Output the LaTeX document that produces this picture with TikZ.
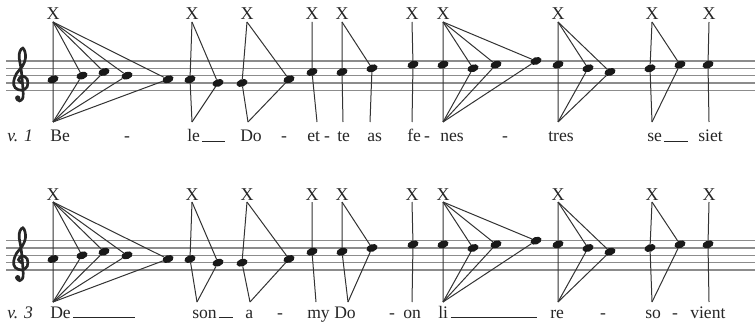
\documentclass[tikz,border=0pt]{standalone}
\usepackage{fontspec}
\setmainfont{Liberation Serif}
\usetikzlibrary{shapes.geometric}
\newcommand\mygclef[1]{%
\begin{scope}[shift={#1}, x=5.5pt, y=5.5pt]
 \draw[line width=2pt, line cap=round, black!85] plot[smooth, tension=0.6] coordinates {(0.05,1.0) (-0.35,1.4) (0.15,1.95) (0.85,1.5) (0.85,0.5) (0.1,0.0) (-0.8,0.35) (-1.0,1.2) (-0.6,2.3) (0.2,3.3) (0.6,4.3) (0.55,5.2) (0.25,5.75) (-0.15,5.3) (-0.25,4.4) (0.0,3.0) (0.2,1.0) (0.3,-0.5) (0.2,-1.15) (-0.2,-1.45) (-0.55,-1.2)};
 \fill[black!85] (-0.45,-1.05) circle (0.36);
\end{scope}}
\begin{document}
\begin{tikzpicture}[x=0.75pt,y=-0.75pt,
  staff/.style={draw=black!45, line width=0.8pt},
  link/.style={draw=black!80, line width=0.75pt},
  note/.style={ellipse, fill=black!90, minimum width=8.6pt, minimum height=5.6pt, inner sep=0pt, outer sep=0pt, rotate=20},
  xmark/.style={font=\fontsize{13.5}{15}\selectfont, text=black!85, inner sep=0pt, outer sep=1.5pt, anchor=south},
  lyr/.style={font=\fontsize{13.2}{15}\selectfont, text=black!85, inner sep=0pt, anchor=base west},
  hyph/.style={font=\fontsize{13.2}{15}\selectfont, text=black!85, inner sep=0pt, anchor=base},
]
\useasboundingbox (0,0) rectangle (755,324);
% staves
\foreach \dy in {0,179.7}{
  \foreach \k in {0,...,4}{
    \draw[staff] (6,{61+\dy+\k*7.33}) -- (755,{61+\dy+\k*7.33});
  }
}
\mygclef{(21,90.3)}
\mygclef{(21,270)}
% notes
\foreach \r/\dy in {a/0,b/179.7}{
  \foreach \i/\x/\p in {1/53/3,2/82/4,3/104/5,4/127/4,5/168/3,6/190/3,7/218/2,8/242/2,9/289/3,10/312/5,11/342/5,12/372/6,13/413/7,14/443/7,15/473/6,16/496/7,17/536/8,18/558/7,19/588/6,20/610/5,21/650/6,22/680/7,23/708/7}{
    \node[note] (\r\i) at (\x,{90.3+\dy-\p*3.665}) {};
  }
}
% X marks
\foreach \r/\dy in {a/0,b/180}{
  \foreach \j/\x in {1/53,2/192,3/247,4/312,5/342,6/412,7/443,8/558,9/652,10/709}{
    \node[xmark] (x\r\j) at (\x,22+\dy) {X};
  }
}
% links from X marks to notes
\foreach \r in {a,b}{
  \foreach \j/\lst in {1/{1,2,3,4,5},2/{6,7},3/{8,9},4/{10},5/{11,12},6/{13},7/{14,15,16,17},8/{18,19,20},9/{21,22},10/{23}}{
    \foreach \n in \lst { \draw[link] (x\r\j.south) -- (\r\n); }
  }
}
% lower anchors, row a
\foreach \j/\x/\lst in {1/53/{1,2,3,4,5},2/192/{6,7},3/248/{8,9},4/317/{10},5/343/{11},11/370/{12},6/412/{13},7/443/{14,15,16,17},8/558/{18,19,20},9/652/{21,22},10/709/{23}}{
  \coordinate (ba\j) at (\x,122);
  \foreach \n in \lst { \draw[link] (a\n) -- (ba\j); }
}
% lower anchors, row b
\foreach \j/\x/\lst in {1/53/{1,2,3,4,5},2/197/{6,7},3/250/{8,9},4/316/{10},5/348/{11,12},6/412/{13},7/443/{14,15,16,17},8/558/{18,19,20},9/652/{21,22},10/709/{23}}{
  \coordinate (bb\j) at (\x,302);
  \foreach \n in \lst { \draw[link] (b\n) -- (bb\j); }
}
% lyrics, verse 1
\node[lyr] (la0) at (7,142) {\textit{v. 1}};
\node[lyr] (la1) at (50,142) {Be};
\node[hyph] (la2) at (127,142) {-};
\node[lyr] (la3) at (187,142) {le\hspace{1.5pt}\rule{17pt}{0.5pt}};
\node[lyr] (la4) at (240,142) {Do};
\node[hyph] (la5) at (284,142) {-};
\node[lyr] (la6) at (307,142) {et};
\node[hyph] (la7) at (327,142) {-};
\node[lyr] (la8) at (337,142) {te};
\node[lyr] (la9) at (367,142) {as};
\node[lyr] (la10) at (407,142) {fe};
\node[hyph] (la11) at (427,142) {-};
\node[lyr] (la12) at (440,142) {nes};
\node[hyph] (la13) at (505,142) {-};
\node[lyr] (la14) at (548,142) {tres};
\node[lyr] (la15) at (647,142) {se\hspace{1.5pt}\rule{18pt}{0.5pt}};
\node[lyr] (la16) at (698,142) {siet};
% lyrics, verse 3
\node[lyr] (lb0) at (7,318) {\textit{v. 3}};
\node[lyr] (lb1) at (50,318) {De\hspace{1.5pt}\rule{47pt}{0.5pt}};
\node[lyr] (lb2) at (192,318) {son\hspace{1.5pt}\rule{10.5pt}{0.5pt}};
\node[lyr] (lb3) at (245,318) {a};
\node[hyph] (lb4) at (280,318) {-};
\node[lyr] (lb5) at (307,318) {my};
\node[lyr] (lb6) at (334,318) {Do};
\node[hyph] (lb7) at (392,318) {-};
\node[lyr] (lb8) at (403,318) {on};
\node[lyr] (lb9) at (438,318) {li\hspace{2pt}\rule{65pt}{0.5pt}};
\node[lyr] (lb10) at (550,318) {re};
\node[hyph] (lb11) at (603,318) {-};
\node[lyr] (lb12) at (645,318) {so};
\node[hyph] (lb13) at (675,318) {-};
\node[lyr] (lb14) at (690,318) {vient};
\end{tikzpicture}
\end{document}
